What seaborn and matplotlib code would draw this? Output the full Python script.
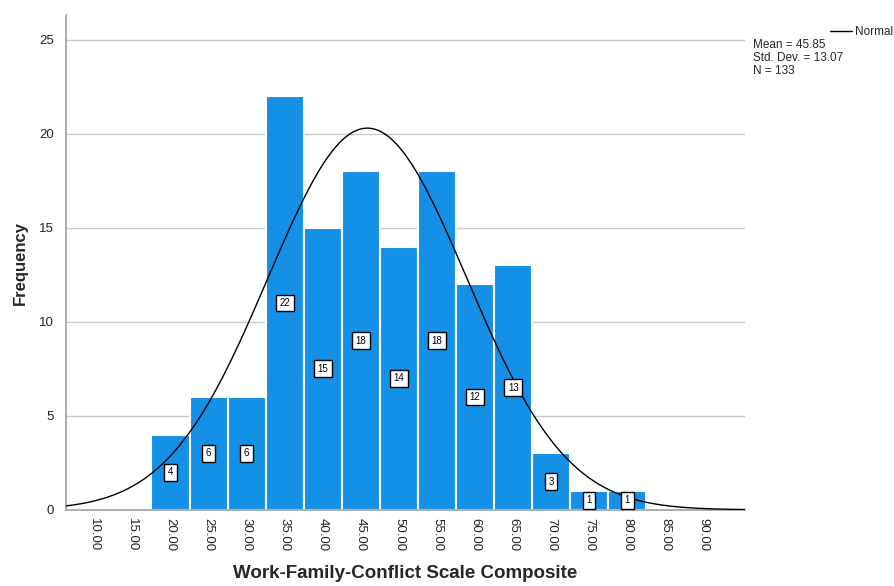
import numpy as np
import pandas as pd
import matplotlib
matplotlib.use("Agg")
import matplotlib.pyplot as plt
import seaborn as sns

# Histogram of the composite score (bin centres and counts)
bin_centers = [20, 25, 30, 35, 40, 45, 50, 55, 60, 65, 70, 75, 80]
counts = [4, 6, 6, 22, 15, 18, 14, 18, 12, 13, 3, 1, 1]
bin_width = 5

# Summary statistics used for the fitted normal curve
mean_val = 45.85
std_val = 13.07
n_val = 133

x_ticks = [10, 15, 20, 25, 30, 35, 40, 45, 50, 55, 60, 65, 70, 75, 80, 85, 90]
y_ticks = [0, 5, 10, 15, 20, 25]

sns.set_theme(style="white")
plt.rcParams["font.family"] = ["Liberation Sans", "DejaVu Sans"]

fig = plt.figure(figsize=(8.94, 5.86), dpi=100)
ax = fig.add_axes([0.074, 0.13, 0.759, 0.844])

df = pd.DataFrame({"score": bin_centers, "count": counts})
lo = bin_centers[0] - bin_width / 2
hi = bin_centers[-1] + bin_width / 2

for y in y_ticks[1:]:
    ax.axhline(y, color="#c8c8c8", lw=1.0, zorder=0)

sns.histplot(data=df, x="score", weights="count", binwidth=bin_width,
             binrange=(lo, hi), ax=ax, color="#1490e6", alpha=1.0,
             edgecolor="white", linewidth=1.5, zorder=2)

# Count labels in boxes at half bar height
for c, k in zip(bin_centers, counts):
    ax.text(c, k / 2, str(k), ha="center", va="center", fontsize=7,
            color="black", zorder=4,
            bbox=dict(boxstyle="square,pad=0.35", fc="white", ec="black", lw=1.0))

# Normal curve scaled to counts
xs = np.linspace(6.3, 95.4, 400)
ys = n_val * bin_width / (std_val * np.sqrt(2 * np.pi)) * \
    np.exp(-0.5 * ((xs - mean_val) / std_val) ** 2)
sns.lineplot(x=xs, y=ys, ax=ax, color="black", lw=1.0, zorder=3)

ax.set_xlim(6.3, 95.4)
ax.set_ylim(0, 26.3)
ax.set_xticks(x_ticks)
ax.set_xticklabels([f"{t:.2f}" for t in x_ticks], rotation=270, fontsize=9.5,
                   color="#222222")
ax.set_yticks(y_ticks)
ax.set_yticklabels([str(t) for t in y_ticks], fontsize=9.5, color="#222222")
ax.tick_params(axis="x", length=0, pad=6)
ax.tick_params(axis="y", length=0, pad=9)

for side in ["top", "right"]:
    ax.spines[side].set_visible(False)
ax.spines["left"].set_color("#a0a0a0")
ax.spines["bottom"].set_color("#a0a0a0")
ax.spines["left"].set_linewidth(1.2)
ax.spines["bottom"].set_linewidth(1.2)

ax.set_xlabel("Work-Family-Conflict Scale Composite", fontsize=13.5,
              fontweight="bold", labelpad=10)
ax.set_ylabel("Frequency", fontsize=12, fontweight="bold", labelpad=8)

# Legend entry and statistics block
fig.add_artist(plt.Line2D([830 / 894, 852 / 894], [1 - 31 / 586, 1 - 31 / 586],
                          color="black", lw=1.0))
fig.text(855 / 894, 1 - 32 / 586, "Normal", fontsize=8.5, va="center", ha="left")
fig.text(753 / 894, 1 - 39.5 / 586,
         f"Mean = {mean_val:.2f}\nStd. Dev. = {std_val:.2f}\nN = {n_val}",
         fontsize=8.5, va="top", ha="left", linespacing=1.1)

fig.savefig("out.png", dpi=100)
